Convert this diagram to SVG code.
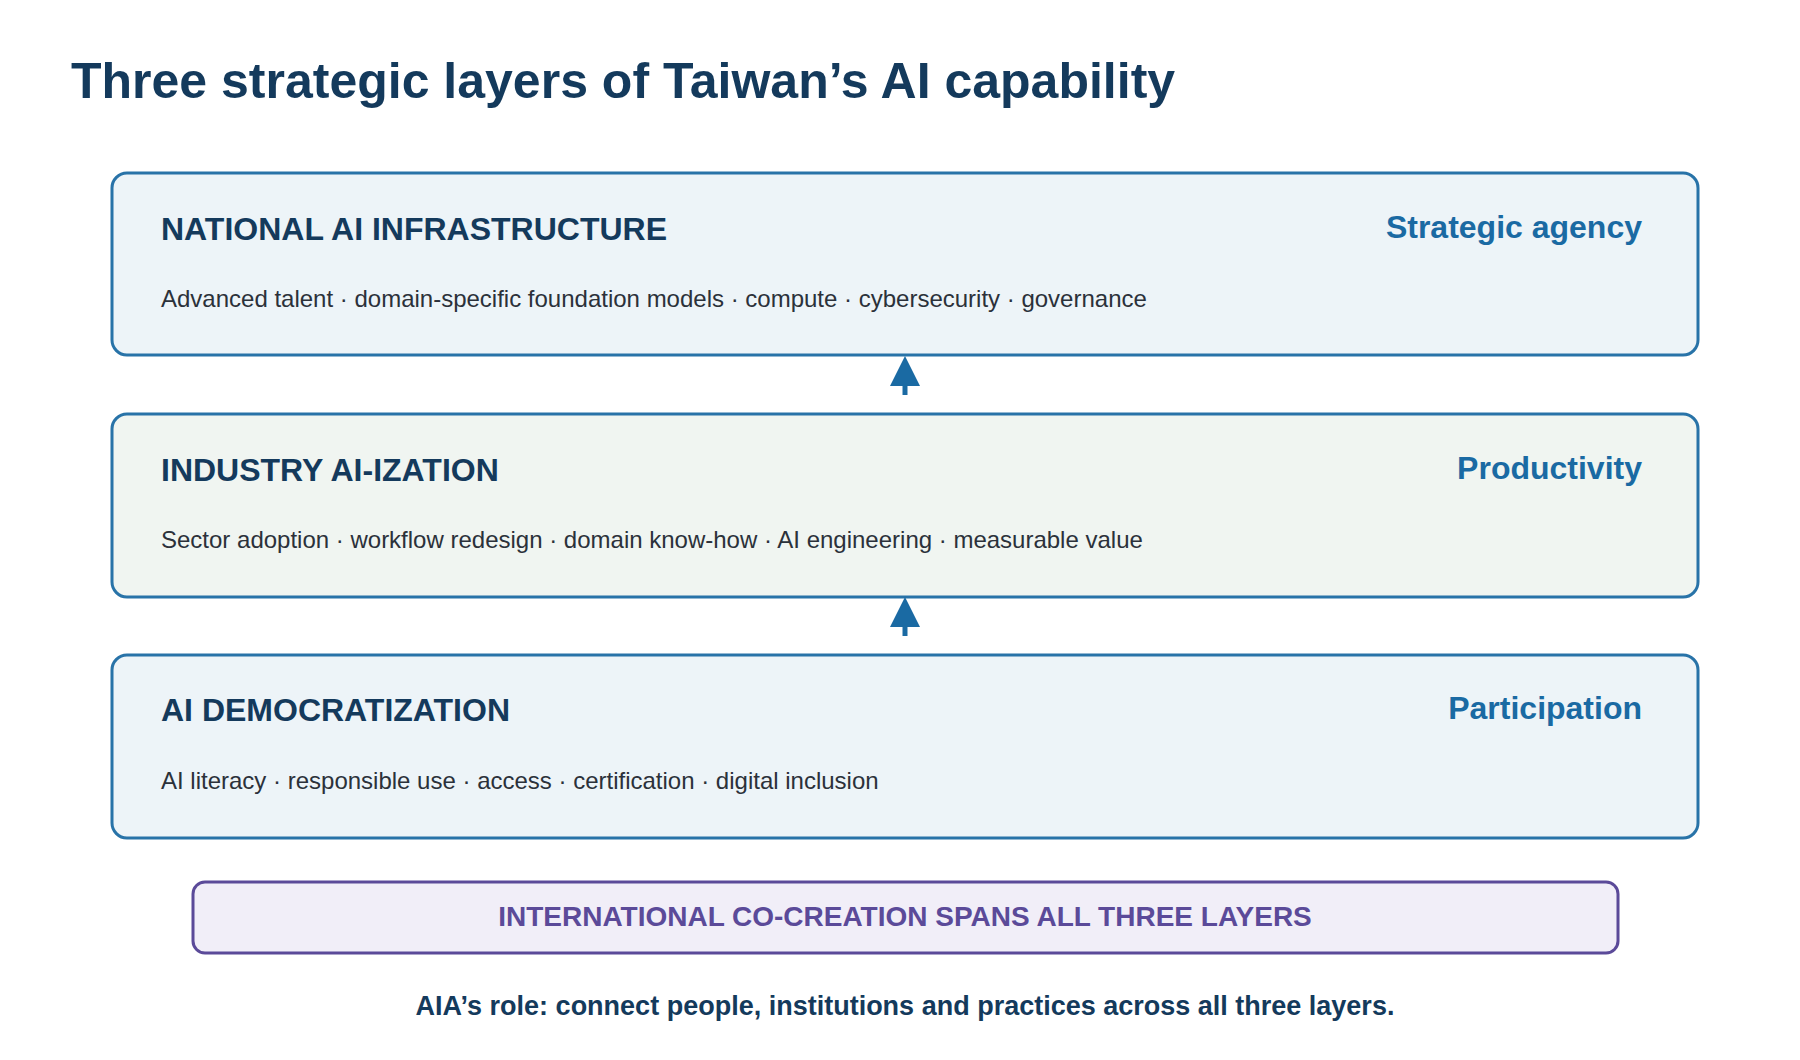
<svg xmlns="http://www.w3.org/2000/svg" width="1800" height="1060" viewBox="0 0 1800 1060">
<style>
text{font-family:"Liberation Sans",Arial,sans-serif}
.title{font-size:50px;font-weight:bold;fill:#143a5c}
.box{stroke:#2873a8;stroke-width:3}
.h{font-size:32px;font-weight:bold;fill:#143a5c}
.r{font-size:32px;font-weight:bold;fill:#1a6aa3;text-anchor:end}
.s{font-size:24px;fill:#2b313a}
.p{font-size:28px;font-weight:bold;fill:#5b4a99;text-anchor:middle}
.f{font-size:27px;font-weight:bold;fill:#143a5c;text-anchor:middle}
.arr{stroke:#1a6aa3;stroke-width:5;fill:none}
</style>
<defs><marker id="ah" viewBox="0 0 10 10" refX="8" refY="5" markerWidth="6" markerHeight="6" markerUnits="strokeWidth" orient="auto"><path d="M0,0L10,5L0,10z" fill="#1a6aa3"/></marker></defs>
<rect width="1800" height="1060" fill="#fff"/>
<text class="title" x="71" y="98">Three strategic layers of Taiwan’s AI capability</text>
<g id="national">
<rect class="box" x="112" y="173" width="1586" height="182" rx="15" fill="#edf4f8"/>
<text class="h" x="161" y="240">NATIONAL AI INFRASTRUCTURE</text>
<text class="r" x="1642" y="238">Strategic agency</text>
<text class="s" x="161" y="307">Advanced talent · domain-specific foundation models · compute · cybersecurity · governance</text>
</g>
<g id="industry">
<rect class="box" x="112" y="414" width="1586" height="183" rx="15" fill="#f0f5f1"/>
<text class="h" x="161" y="481">INDUSTRY AI-IZATION</text>
<text class="r" x="1642" y="479">Productivity</text>
<text class="s" x="161" y="548">Sector adoption · workflow redesign · domain know-how · AI engineering · measurable value</text>
</g>
<g id="democratization">
<rect class="box" x="112" y="655" width="1586" height="183" rx="15" fill="#edf4f8"/>
<text class="h" x="161" y="721">AI DEMOCRATIZATION</text>
<text class="r" x="1642" y="719">Participation</text>
<text class="s" x="161" y="789">AI literacy · responsible use · access · certification · digital inclusion</text>
</g>
<g id="connectors">
<line class="arr" x1="905" y1="395" x2="905" y2="362" marker-end="url(#ah)"/>
<line class="arr" x1="905" y1="636" x2="905" y2="603" marker-end="url(#ah)"/>
</g>
<g id="international">
<rect x="193" y="882" width="1425" height="71" rx="12" fill="#f1eef8" stroke="#5b4a99" stroke-width="3"/>
<text class="p" x="905" y="926">INTERNATIONAL CO-CREATION SPANS ALL THREE LAYERS</text>
</g>
<text class="f" x="905" y="1015">AIA’s role: connect people, institutions and practices across all three layers.</text>
</svg>
